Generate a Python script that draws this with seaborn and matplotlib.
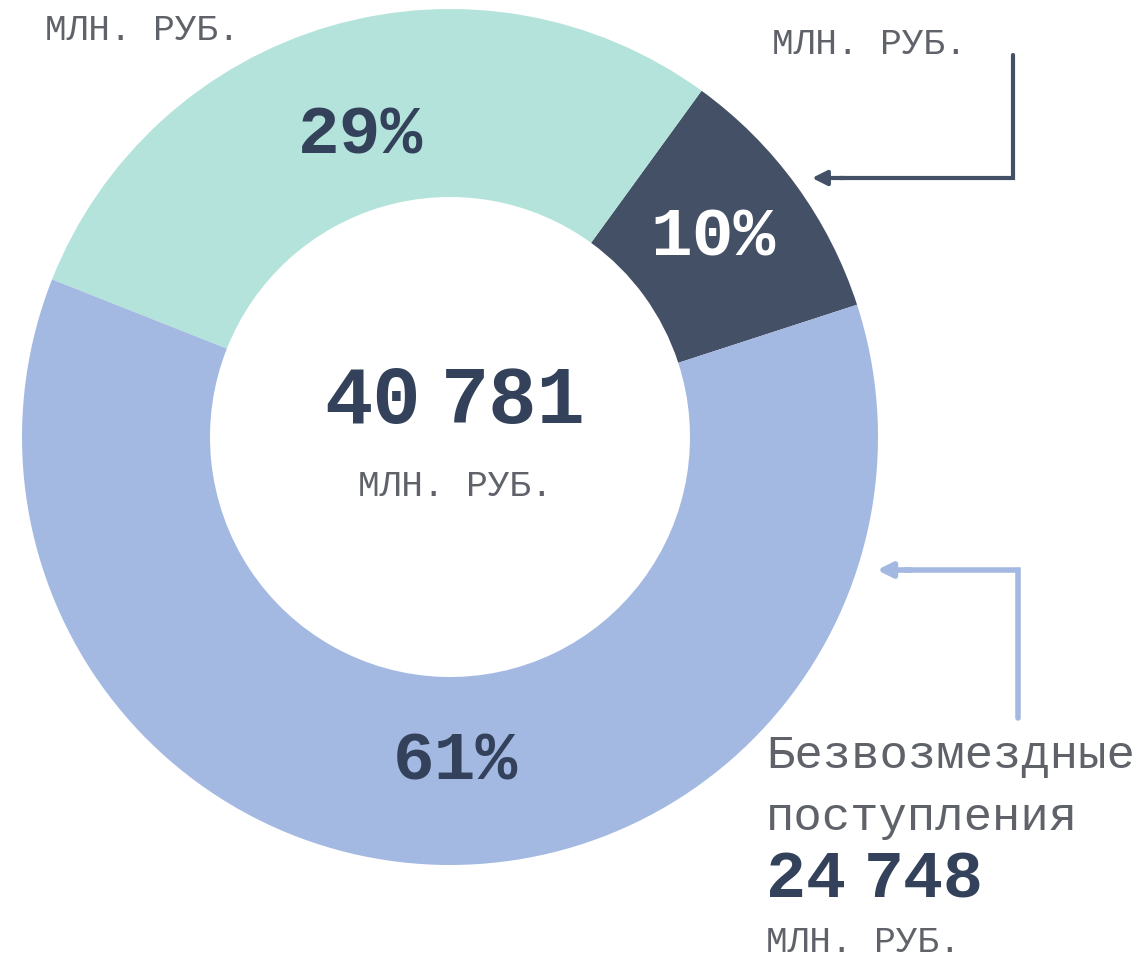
import matplotlib
matplotlib.use("Agg")
import matplotlib.pyplot as plt
import seaborn as sns

# ── DATA ──────────────────────────────────────────────────────────────────────
shares      = [10, 29, 61]                       # percent, counter-clockwise from ~18°
share_names = ["other", "tax", "grants"]
pct_labels  = ["10%", "29%", "61%"]
total_label = "40 781"
grant_label = "24 748"
unit        = "МЛН. РУБ."
grant_name  = ["Безвозмездные", "поступления"]
# ─────────────────────────────────────────────────────────────────────────────

NAVY  = "#435066"
MINT  = "#b3e3da"
BLUE  = "#a3b9e2"
DARK  = "#33425a"
GREY  = "#5f6369"
FONT  = "Liberation Mono"

sns.set_theme(style="white")
plt.rcParams["font.family"] = [FONT, "DejaVu Sans"]

W, H = 1140, 966
fig = plt.figure(figsize=(W / 100, H / 100), dpi=100)
ax = fig.add_axes([0, 0, 1, 1])


def Y(y_img):
    # picture rows run downward, the axis runs upward
    return H - y_img


def split_number(x, y, s, size, gap):
    # thousands groups with a narrow gap instead of a full monospace space
    left, right = s.split(" ")
    kw = dict(va="center", fontsize=size, fontweight="bold", color=DARK, family=FONT)
    t = ax.text(x, y, left, ha="left", **kw)
    fig.canvas.draw()
    bb = t.get_window_extent().transformed(ax.transData.inverted())
    ax.text(bb.x1 + gap, y, right, ha="left", **kw)


colors = [NAVY, MINT, BLUE]
wedges, _ = ax.pie(shares, colors=colors, startangle=18, counterclock=True,
                   center=(450, Y(437)), radius=428, frame=True,
                   wedgeprops=dict(width=188, linewidth=0))
ax.set_xlim(0, W)
ax.set_ylim(0, H)
ax.set_aspect("equal")
ax.axis("off")

# percent labels on the ring
pct_pos = [(713, 237), (360, 135), (455, 762)]
pct_col = ["white", DARK, DARK]
for lab, (x, y), c in zip(pct_labels, pct_pos, pct_col):
    ax.text(x, Y(y), lab, ha="center", va="center", fontsize=50,
            fontweight="bold", color=c, family=FONT)

# centre total
split_number(324, Y(402), total_label, 58, 20)
ax.text(455, Y(487), unit, ha="center", va="center", fontsize=26,
        color=GREY, family=FONT)

# top corner captions (upper lines fall outside the picture)
ax.text(45, Y(30), unit, ha="left", va="center", fontsize=26, color=GREY, family=FONT)
ax.text(772, Y(45), unit, ha="left", va="center", fontsize=26, color=GREY, family=FONT)

# grants caption
ax.text(766, Y(756), grant_name[0], ha="left", va="center", fontsize=34,
        color=GREY, family=FONT)
ax.text(766, Y(818), grant_name[1], ha="left", va="center", fontsize=34,
        color=GREY, family=FONT)
split_number(766, Y(880), grant_label, 48, 18)
ax.text(766, Y(942), unit, ha="left", va="center", fontsize=26,
        color=GREY, family=FONT)

# elbow arrows
ax.plot([1013, 1013, 840], [Y(55), Y(178), Y(178)], color=NAVY, lw=3,
        solid_joinstyle="miter")
ax.annotate("", xy=(812, Y(178)), xytext=(845, Y(178)),
            arrowprops=dict(arrowstyle="-|>", color=NAVY, lw=3,
                            mutation_scale=22, shrinkA=0, shrinkB=0))
ax.plot([1018, 1018, 905], [Y(718), Y(570), Y(570)], color=BLUE, lw=4,
        solid_joinstyle="miter")
ax.annotate("", xy=(877, Y(570)), xytext=(910, Y(570)),
            arrowprops=dict(arrowstyle="-|>", color=BLUE, lw=4,
                            mutation_scale=22, shrinkA=0, shrinkB=0))

fig.savefig("out.png", dpi=100, facecolor="white")
